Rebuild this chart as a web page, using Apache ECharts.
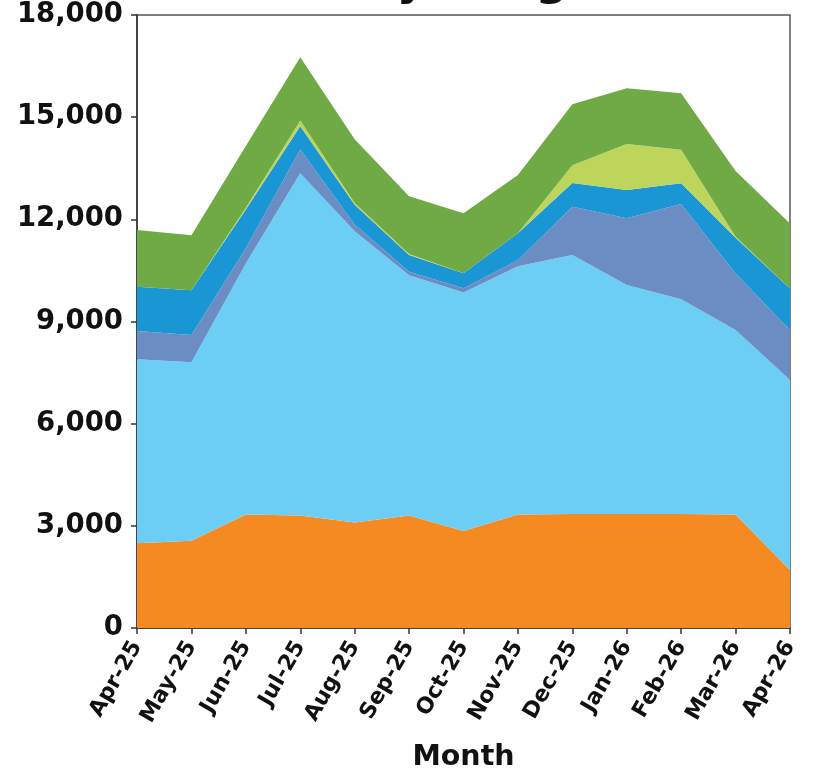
<!DOCTYPE html>
<html>
<head>
<meta charset="utf-8">
<script src="https://cdn.jsdelivr.net/npm/echarts@6/dist/echarts.min.js"></script>
<style>html,body{margin:0;padding:0;background:#fff}#c{width:817px;height:773px}</style>
</head>
<body>
<div id="c"></div>
<script>
const months = ['Apr-25','May-25','Jun-25','Jul-25','Aug-25','Sep-25','Oct-25','Nov-25','Dec-25','Jan-26','Feb-26','Mar-26','Apr-26'];
const seriesNames = ['Series 1','Series 2','Series 3','Series 4','Series 5','Series 6'];
const seriesColors = ['#f58a22','#6dcef5','#6b8dc4','#1996d3','#bdd55b','#6faa45'];
const s1 = [2490, 2560, 3330, 3300, 3100, 3300, 2850, 3330, 3350, 3350, 3350, 3330, 1700];
const s2 = [5400, 5240, 7370, 10050, 8550, 7060, 7000, 7290, 7600, 6720, 6300, 5420, 5580];
const s3 = [830, 800, 450, 700, 200, 100, 130, 180, 1420, 1960, 2800, 1660, 1470];
const s4 = [1300, 1320, 1140, 680, 580, 490, 440, 790, 700, 830, 610, 1050, 1220];
const s5 = [0, 0, 50, 170, 50, 30, 0, 0, 520, 1350, 980, 30, 0];
const s6 = [1670, 1610, 1810, 1860, 1870, 1700, 1760, 1710, 1790, 1640, 1660, 1930, 1910];
const yTicks = {min: 0, max: 18000, interval: 3000};

const allData = [s1, s2, s3, s4, s5, s6];
const chart = echarts.init(document.getElementById('c'), null, {renderer: 'canvas'});
const FONT = 'DejaVu Sans';
chart.setOption({
  animation: false,
  title: {
    text: 'Monthly Usage',
    left: 215, top: -44,
    textStyle: {fontFamily: FONT, fontWeight: 'bold', fontSize: 45, color: '#111'}
  },
  grid: {left: 137, right: 27, top: 15, bottom: 145, show: true, borderColor: '#555', borderWidth: 1.5,
    backgroundColor: 'transparent', containLabel: false, outerBoundsMode: 'none'},
  xAxis: {
    type: 'category', data: months, boundaryGap: false,
    name: 'Month', nameLocation: 'middle', nameGap: 115,
    nameTextStyle: {fontFamily: FONT, fontWeight: 'bold', fontSize: 28.5, color: '#111'},
    axisLine: {show: true, lineStyle: {color: '#333', width: 1.5}},
    axisTick: {show: true, length: 6, lineStyle: {color: '#333', width: 1.5}},
    axisLabel: {rotate: 60, fontFamily: FONT, fontWeight: 'bold', fontSize: 22, color: '#111', margin: 15, interval: 0},
    splitLine: {show: false}
  },
  yAxis: {
    type: 'value', min: yTicks.min, max: yTicks.max, interval: yTicks.interval,
    axisLine: {show: true, lineStyle: {color: '#333', width: 1.5}},
    axisTick: {show: true, length: 6, lineStyle: {color: '#333', width: 1.5}},
    axisLabel: {fontFamily: FONT, fontWeight: 'bold', fontSize: 27.5, color: '#111', margin: 14,
      formatter: v => v.toLocaleString('en-US')},
    splitLine: {show: false}
  },
  series: allData.map((d, i) => ({
    name: seriesNames[i], type: 'line', stack: 'total', data: d,
    showSymbol: false, symbol: 'none',
    lineStyle: {width: 0, color: seriesColors[i]},
    itemStyle: {color: seriesColors[i]},
    areaStyle: {color: seriesColors[i], opacity: 1}
  }))
});
</script>
</body>
</html>
